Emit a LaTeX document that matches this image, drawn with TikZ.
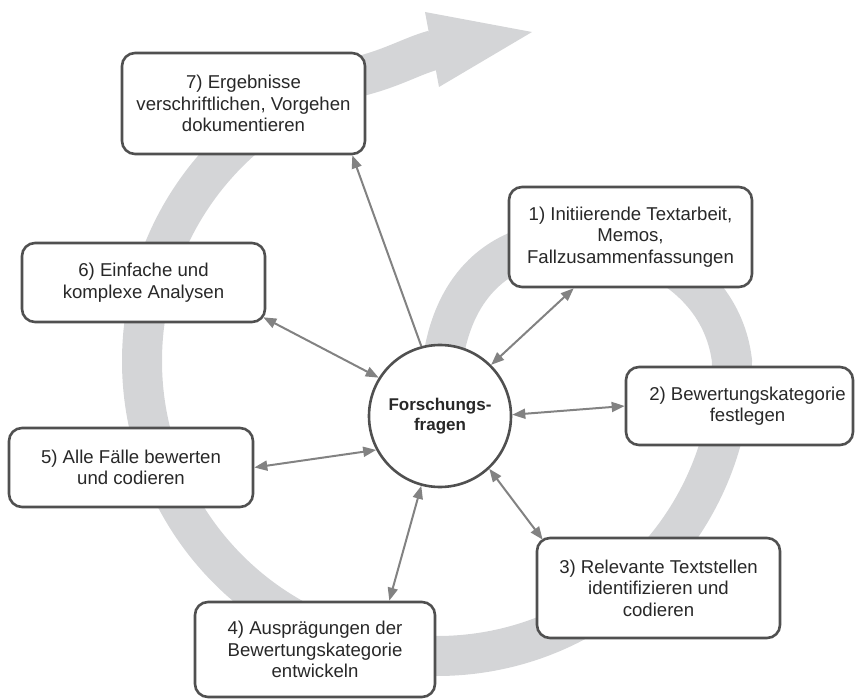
\documentclass[tikz,border=0pt]{standalone}
\usepackage{fontspec}
\setmainfont{Liberation Sans}
\usetikzlibrary{arrows.meta,calc}
\definecolor{bandgray}{RGB}{212,213,215}
\definecolor{boxline}{RGB}{80,80,80}
\definecolor{conn}{RGB}{130,130,130}
\definecolor{txt}{RGB}{40,40,40}
\begin{document}
\begin{tikzpicture}[x=1pt,y=-1pt,
  stepbox/.style={draw=boxline, line width=2.6pt, fill=white, rounded corners=13pt,
    align=center, text=txt, font=\fontsize{18.6}{21.5}\selectfont, inner sep=0pt},
  hub/.style={circle, draw=boxline, line width=2.6pt, fill=white, minimum size=142pt,
    align=center, text=txt, font=\bfseries\fontsize{17}{20}\selectfont, inner sep=0pt},
  tipA/.tip={Triangle[length=13pt,width=10pt]},
  link/.style={draw=conn, line width=2pt, tipA-tipA},
  onelink/.style={draw=conn, line width=2pt, -tipA}]
\useasboundingbox (0,0) rectangle (857,700);
% spiral band
\draw[bandgray, line width=40pt] (440,400) .. controls (440,320) and (470,270) .. (520,250)
  .. controls (600,218) and (720,260) .. (732,361)
  arc[start angle=0, end angle=255, radius=295]
  .. controls (395,67) and (412,56) .. (434,50);
\fill[bandgray] (425,12) -- (532,32) -- (439,87) -- cycle;
% boxes
\node[stepbox, minimum width=243pt, minimum height=101pt] (b7) at (243.5,103.5)
  {7) Ergebnisse\\verschriftlichen, Vorgehen\\dokumentieren};
\node[stepbox, minimum width=243pt, minimum height=100pt] (b1) at (630.5,237)
  {1) Initiierende Textarbeit,\\Memos,\\Fallzusammenfassungen};
\node[stepbox, minimum width=227pt, minimum height=78pt] (b2) at (739.5,406)
  {\hspace*{16pt}2) Bewertungskategorie\\\hspace*{16pt}festlegen};
\node[stepbox, minimum width=243pt, minimum height=100pt] (b3) at (658.5,588)
  {3) Relevante Textstellen\\identifizieren und\\codieren};
\node[stepbox, minimum width=240pt, minimum height=95pt] (b4) at (315,649.5)
  {4) Ausprägungen der\\Bewertungskategorie\\entwickeln};
\node[stepbox, minimum width=244pt, minimum height=79pt] (b5) at (131,467.5)
  {5) Alle Fälle bewerten\\und codieren};
\node[stepbox, minimum width=243pt, minimum height=79pt] (b6) at (143.5,282.5)
  {6) Einfache und\\komplexe Analysen};
\node[hub] (c) at (440,416) {Forschungs-\\fragen};
% connectors
\draw[onelink] (c.105) -- ([xshift=-14pt]b7.south east);
\draw[link] (c.45) -- ([xshift=66pt]b1.south west);
\draw[link] (c.1) -- (b2.west);
\draw[link] (c.-47) -- ([xshift=7pt,yshift=-3pt]b3.north west);
\draw[link] (c.-105) -- ([xshift=-47pt]b4.north east);
\draw[link] (c.208) -- (b5.east);
\draw[link] (c.148.5) -- ([xshift=-3pt,yshift=6pt]b6.south east);
\end{tikzpicture}
\end{document}
